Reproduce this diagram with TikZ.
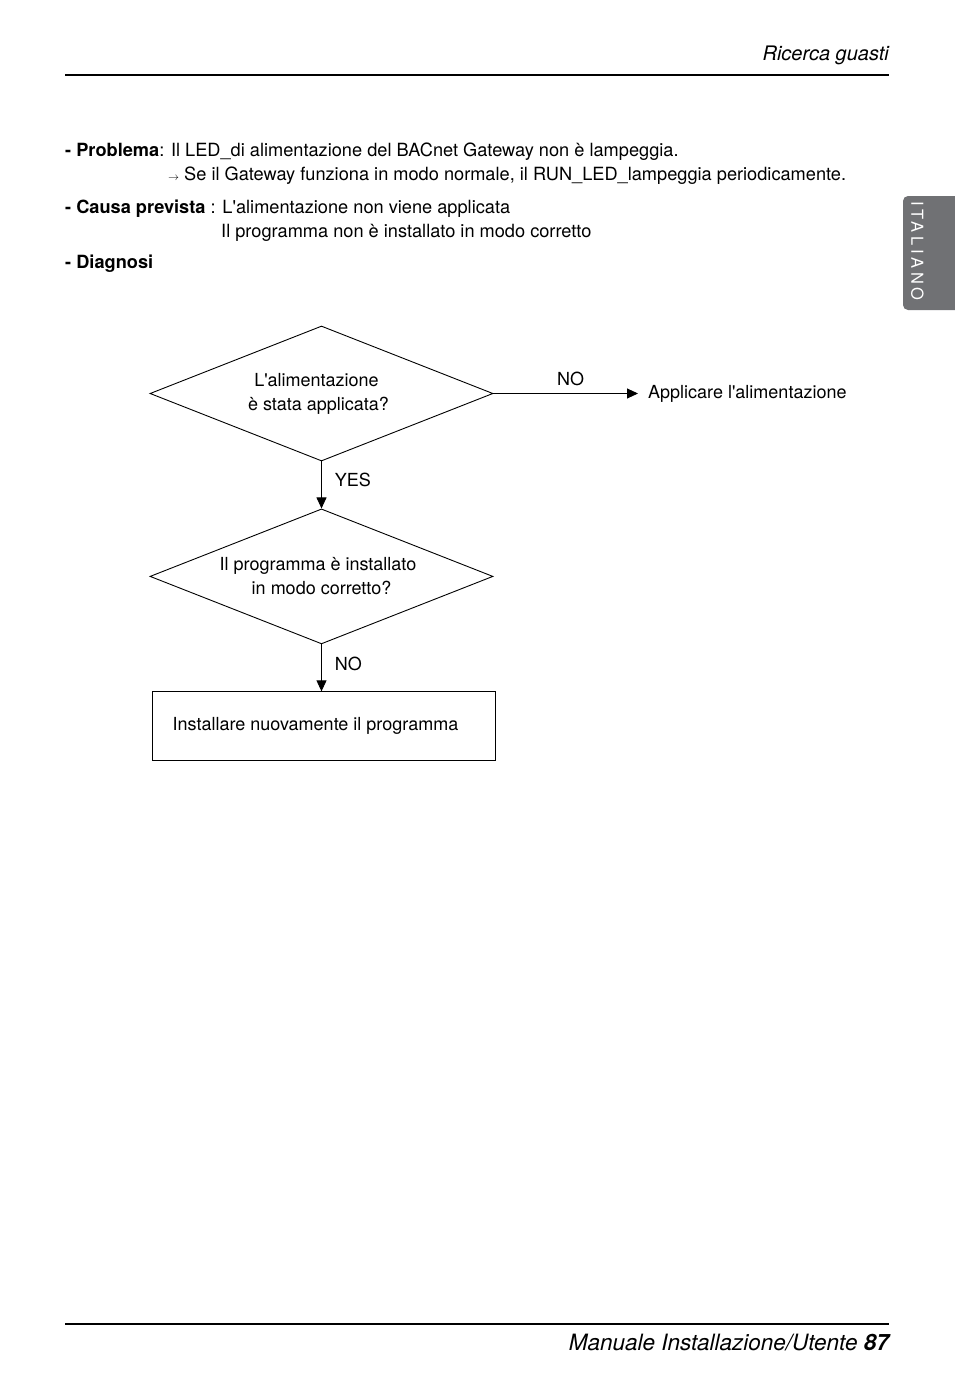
\documentclass[tikz,border=0pt]{standalone}
\usepackage{fontspec}
\setmainfont{TeX Gyre Heros}
\usetikzlibrary{shapes.geometric,arrows.meta,positioning}
\definecolor{tabgray}{RGB}{112,113,116}
\tikzset{
  decision/.style={draw, diamond, aspect=2.54, line width=0.9pt, minimum width=343pt, minimum height=135pt,
    inner sep=0pt, align=center, font=\fontsize{18}{24}\selectfont},
  process/.style={draw, rectangle, line width=0.9pt, minimum width=343pt, minimum height=69pt,
    font=\fontsize{18}{24}\selectfont},
  flowarrow/.style={-{Triangle[length=11pt,width=10pt]}, line width=0.9pt},
  bodytext/.style={anchor=base west, inner sep=0pt, font=\fontsize{18.2}{24}\selectfont},
  flowlabel/.style={inner sep=0pt, font=\fontsize{18}{24}\selectfont},
}
\begin{document}
\begin{tikzpicture}[x=1pt,y=-1pt]
\useasboundingbox (0,0) rectangle (954,1400);
% header and footer
\draw[line width=2pt] (65,75)--(889,75);
\node[anchor=base east, inner sep=0pt, font=\fontsize{20}{22}\selectfont\itshape] (pagehead) at (889,60) {Ricerca guasti};
\draw[line width=2pt] (65,1324)--(889,1324);
\node[anchor=base east, inner sep=0pt, font=\fontsize{22.5}{26}\selectfont\itshape] (pagefoot) at (889,1350) {Manuale Installazione/Utente \textbf{87}};
% language tab
\fill[tabgray, rounded corners=5pt] (903,196) rectangle (960,310);
\node[rotate=-90, text=white, inner sep=0pt, font=\fontsize{16.5}{16}\selectfont\addfontfeatures{LetterSpace=22}] (langtab) at (917.5,251) {ITALIANO};
% description
\node[bodytext] (probl) at (65,156) {\textbf{- Problema}: Il LED\_di alimentazione del BACnet Gateway non è lampeggia.};
\node[bodytext] (probl2) at (168,180) {{\fontsize{11}{11}\selectfont$\rightarrow$} Se il Gateway funziona in modo normale, il RUN\_LED\_lampeggia periodicamente.};
\node[bodytext] (causa) at (65,213) {\textbf{- Causa prevista} : L\textquotesingle alimentazione non viene applicata};
\node[bodytext] (causa2) at (221,237) {Il programma non è installato in modo corretto};
\node[bodytext] (diagn) at (65,268) {\textbf{- Diagnosi}};
% flowchart
\node[decision] (power) at (321.5,393.5) {\hspace*{-10pt}L\textquotesingle alimentazione\\\hspace*{-6pt}è stata applicata?};
\node[decision, below=47pt of power] (prog) {\hspace*{-7pt}Il programma è installato\\in modo corretto?};
\node[process, below=47pt of prog, xshift=2pt] (reinst) {\hspace*{-16pt}Installare nuovamente il programma};
\node[flowlabel, anchor=west] (applypower) at (648,393.5) {Applicare l\textquotesingle alimentazione};

\draw[flowarrow, shorten >=10pt] (power.east) -- (applypower.west) node[flowlabel, pos=0.5, above=7pt] {NO};
\draw[flowarrow] (power.south) -- (prog.north) node[flowlabel, midway, right=13pt, yshift=5pt] {YES};
\draw[flowarrow] (prog.south) -- (prog.south |- reinst.north) node[flowlabel, midway, right=13pt, yshift=4pt] {NO};
\end{tikzpicture}
\end{document}
